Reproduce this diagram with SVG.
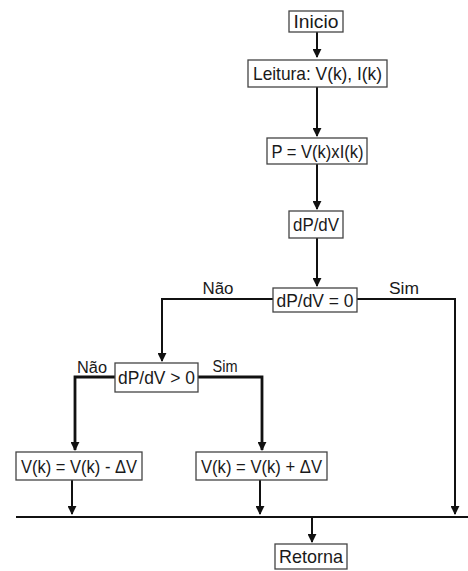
<svg xmlns="http://www.w3.org/2000/svg" width="468" height="571" viewBox="0 0 468 571">
<style>
.box{fill:#fff;stroke:#444;stroke-width:1.3}
.t{font-family:"Liberation Sans",Arial,sans-serif;font-size:19px;fill:#1a1a1a;text-anchor:middle;dominant-baseline:central}
.l{font-family:"Liberation Sans",Arial,sans-serif;font-size:16px;fill:#1a1a1a;text-anchor:middle;dominant-baseline:central}
.c{fill:none;stroke:#111;stroke-width:2}
</style>
<defs>
<marker id="a" viewBox="0 0 10 10" refX="9" refY="5" markerWidth="9" markerHeight="9" markerUnits="userSpaceOnUse" orient="auto"><path d="M0,0 L10,5 L0,10 Z" fill="#111"/></marker>
</defs>
<g id="connectors">
<path class="c" d="M317,32 V57" marker-end="url(#a)"/>
<path class="c" d="M317,87 V136" marker-end="url(#a)"/>
<path class="c" d="M317,164 V209" marker-end="url(#a)"/>
<path class="c" d="M317,238 V286" marker-end="url(#a)"/>
<path class="c" d="M273,299 H162 V361" marker-end="url(#a)"/>
<path class="c" d="M357,299 H455 V514" marker-end="url(#a)"/>
<path class="c" style="stroke-width:2.8" d="M115,377 H75 V450" marker-end="url(#a)"/>
<path class="c" style="stroke-width:2.8" d="M198,377 H262 V450" marker-end="url(#a)"/>
<path class="c" d="M72,480 V514" marker-end="url(#a)"/>
<path class="c" d="M260,480 V514" marker-end="url(#a)"/>
<path class="c" d="M16,517 H468"/>
<path class="c" d="M312,517 V542" marker-end="url(#a)"/>
<text class="l" x="218" y="288" textLength="31" lengthAdjust="spacingAndGlyphs">Não</text>
<text class="l" x="404" y="288" textLength="30" lengthAdjust="spacingAndGlyphs">Sim</text>
<text class="l" x="92" y="367" textLength="30" lengthAdjust="spacingAndGlyphs">Não</text>
<text class="l" x="225" y="366" textLength="25" lengthAdjust="spacingAndGlyphs">Sim</text>
</g>
<g id="inicio"><rect class="box" x="289" y="11" width="54" height="21"/><text class="t" x="316" y="21.5" textLength="45" lengthAdjust="spacingAndGlyphs">Inicio</text></g>
<g id="leitura"><rect class="box" x="248" y="60" width="139" height="27"/><text class="t" x="317.5" y="73.5" textLength="129" lengthAdjust="spacingAndGlyphs">Leitura: V(k), I(k)</text></g>
<g id="potencia"><rect class="box" x="267" y="138" width="100" height="26"/><text class="t" x="317.5" y="151" textLength="92" lengthAdjust="spacingAndGlyphs">P = V(k)xI(k)</text></g>
<g id="derivada"><rect class="box" x="289" y="211" width="54" height="27"/><text class="t" x="316" y="224.5" textLength="46" lengthAdjust="spacingAndGlyphs">dP/dV</text></g>
<g id="dec_zero"><rect class="box" x="273" y="288" width="84" height="24"/><text class="t" x="315" y="300" textLength="77" lengthAdjust="spacingAndGlyphs">dP/dV = 0</text></g>
<g id="dec_pos"><rect class="box" x="115" y="363" width="83" height="29"/><text class="t" x="156.5" y="377.5" textLength="77" lengthAdjust="spacingAndGlyphs">dP/dV &gt; 0</text></g>
<g id="menos"><rect class="box" x="16" y="452" width="126" height="28"/><text class="t" x="79" y="466" textLength="116" lengthAdjust="spacingAndGlyphs">V(k) = V(k) - ΔV</text></g>
<g id="mais"><rect class="box" x="196" y="452" width="131" height="28"/><text class="t" x="261.5" y="466" textLength="121" lengthAdjust="spacingAndGlyphs">V(k) = V(k) + ΔV</text></g>
<g id="retorna"><rect class="box" x="275" y="544" width="72" height="25"/><text class="t" x="311" y="556.5" textLength="64" lengthAdjust="spacingAndGlyphs">Retorna</text></g>
</svg>
